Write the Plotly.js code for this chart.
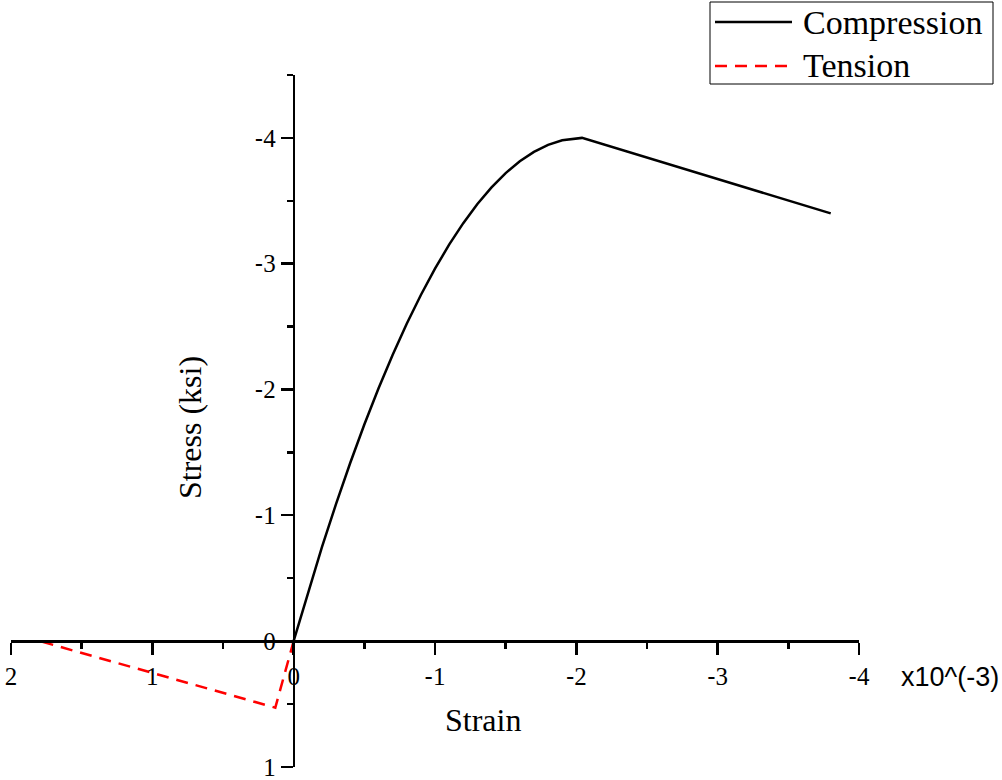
<!DOCTYPE html>
<html>
<head>
<meta charset="utf-8">
<script src="https://cdn.plot.ly/plotly-3.0.1.min.js"></script>
<style>html,body{margin:0;padding:0;background:#fff;}#chart{width:1002px;height:780px;}</style>
</head>
<body>
<div id="chart"></div>
<script>
// Strain in units of 1e-3, stress in ksi (compression negative)
const compStrain = [0, -0.1, -0.2, -0.3, -0.4, -0.5, -0.6, -0.7, -0.8, -0.9, -1.0, -1.1, -1.2, -1.3, -1.4, -1.5, -1.6, -1.7, -1.8, -1.9, -2.0, -2.04, -3.8];
const compStress = [0, -0.383, -0.746, -1.090, -1.415, -1.721, -2.007, -2.274, -2.522, -2.751, -2.960, -3.151, -3.322, -3.474, -3.606, -3.720, -3.814, -3.889, -3.945, -3.981, -3.998, -4.0, -3.4];
const tensStrain = [0, 0.13, 1.8];
const tensStress = [0, 0.53, 0];

const seriesNames = ['Compression', 'Tension'];
const xTickVals = [2, 1, 0, -1, -2, -3, -4];
const xTickText = ['2', '1', '0', '-1', '-2', '-3', '-4'];
const yTickVals = [-4, -3, -2, -1, 0, 1];
const yTickText = ['-4', '-3', '-2', '-1', '0', '1'];
const xMinorVals = [1.5, 0.5, -0.5, -1.5, -2.5, -3.5];
const yMinorVals = [-4.5, -3.5, -2.5, -1.5, -0.5, 0.5];

function fmt(t) {
  return t.replace('-', '<span style="font-family:Arial">-</span>');
}

const serif = 'Times New Roman, Liberation Serif, serif';

// paper-coordinate helpers for the hand-drawn legend box (plot area: x 11..859, y 75..767 px)
const px = v => (v - 11) / 848;
const py = v => (767 - v) / 692;

const traces = [
  {x: compStrain, y: compStress, type: 'scatter', mode: 'lines', name: seriesNames[0],
   line: {color: '#000000', width: 2.5}, showlegend: false},
  {x: tensStrain, y: tensStress, type: 'scatter', mode: 'lines', name: seriesNames[1],
   line: {color: '#ff0000', width: 2.5, dash: '12px,8px'}, showlegend: false}
];

const layout = {
  width: 1002, height: 780,
  margin: {l: 11, r: 143, t: 75, b: 13, autoexpand: false},
  paper_bgcolor: '#ffffff', plot_bgcolor: '#ffffff',
  showlegend: false,
  xaxis: {
    range: [2, -4], anchor: 'free', position: 0.1818,
    showline: true, linecolor: '#000', linewidth: 2.5,
    showgrid: false, zeroline: false,
    ticks: 'outside', ticklen: 12, tickwidth: 2.5, tickcolor: '#000',
    tickmode: 'array', tickvals: xTickVals, ticktext: xTickText.map(fmt),
    tickfont: {family: serif, size: 25, color: '#000'}, ticklabeloverflow: 'allow',
    minor: {tickmode: 'array', tickvals: xMinorVals, ticks: 'outside', ticklen: 6, tickwidth: 2.5, tickcolor: '#000', showgrid: false}
  },
  yaxis: {
    range: [1.002, -4.5], anchor: 'free', position: 0.3333,
    showline: true, linecolor: '#000', linewidth: 2.5,
    showgrid: false, zeroline: false,
    ticks: 'outside', ticklen: 12, tickwidth: 2.5, tickcolor: '#000',
    tickmode: 'array', tickvals: yTickVals, ticktext: yTickText.map(fmt),
    tickfont: {family: serif, size: 25, color: '#000'}, ticklabeloverflow: 'allow',
    minor: {tickmode: 'array', tickvals: yMinorVals, ticks: 'outside', ticklen: 6, tickwidth: 2.5, tickcolor: '#000', showgrid: false}
  },
  shapes: [
    {type: 'rect', xref: 'paper', yref: 'paper', x0: px(710), x1: px(993), y0: py(84), y1: py(2),
     line: {color: '#000', width: 1}, fillcolor: 'rgba(0,0,0,0)'},
    {type: 'line', xref: 'paper', yref: 'paper', x0: px(715), x1: px(792), y0: py(22), y1: py(22),
     line: {color: '#000', width: 2.5}},
    {type: 'line', xref: 'paper', yref: 'paper', x0: px(715), x1: px(792), y0: py(66), y1: py(66),
     line: {color: '#ff0000', width: 2.5, dash: '12px,8px'}}
  ],
  annotations: [
    {text: seriesNames[0], xref: 'paper', yref: 'paper', x: px(801), y: py(23),
     xanchor: 'left', yanchor: 'middle', showarrow: false,
     font: {family: serif, size: 34, color: '#000'}},
    {text: seriesNames[1], xref: 'paper', yref: 'paper', x: px(801), y: py(66),
     xanchor: 'left', yanchor: 'middle', showarrow: false,
     font: {family: serif, size: 34, color: '#000'}},
    {text: 'Strain', xref: 'paper', yref: 'paper', x: px(483), y: py(720),
     xanchor: 'center', yanchor: 'middle', showarrow: false,
     font: {family: serif, size: 32, color: '#000'}},
    {text: 'Stress (ksi)', xref: 'paper', yref: 'paper', x: px(190), y: py(428),
     xanchor: 'center', yanchor: 'middle', showarrow: false, textangle: -90,
     font: {family: serif, size: 32, color: '#000'}},
    {text: 'x10^(-3)', xref: 'paper', yref: 'paper', x: px(950), y: py(677),
     xanchor: 'center', yanchor: 'middle', showarrow: false,
     font: {family: 'Arial, Liberation Sans, sans-serif', size: 27, color: '#000'}}
  ]
};

Plotly.newPlot('chart', traces, layout, {displayModeBar: false, staticPlot: true});
</script>
</body>
</html>
